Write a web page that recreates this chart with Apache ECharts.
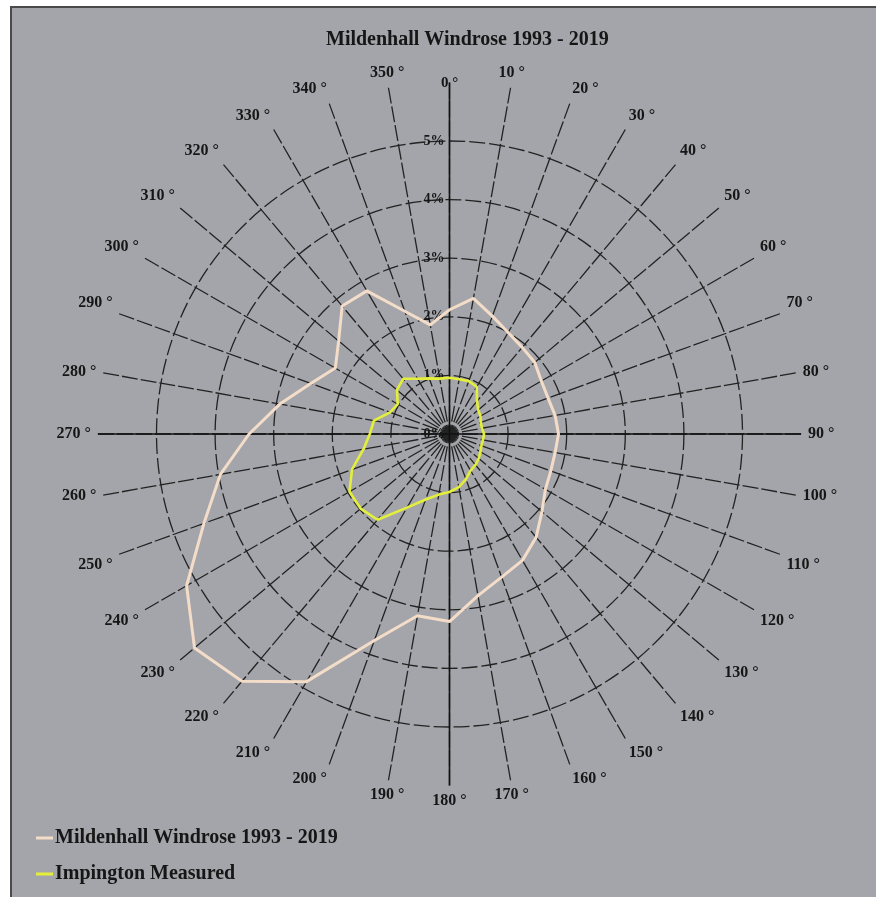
<!DOCTYPE html>
<html>
<head>
<meta charset="utf-8">
<script src="https://cdn.jsdelivr.net/npm/echarts@6/dist/echarts.min.js"></script>
<style>
  html, body { margin: 0; padding: 0; background: #ffffff; }
  #wrap { position: relative; width: 876px; height: 897px; overflow: hidden; }
  #chart { position: absolute; left: 0; top: 0; width: 876px; height: 897px; }
  .strip { position: absolute; background: #ffffff; }
  .edge { position: absolute; background: #4a4a4a; }
</style>
</head>
<body>
<div id="wrap">
  <div id="chart"></div>
  <div class="strip" style="left:0;top:0;width:876px;height:6px;"></div>
  <div class="strip" style="left:0;top:0;width:10px;height:897px;"></div>
  <div class="edge" style="left:10px;top:6px;width:866px;height:2px;"></div>
  <div class="edge" style="left:10px;top:6px;width:2px;height:891px;"></div>
</div>
<script>
// ---- data ----
const titleText = 'Mildenhall Windrose 1993 - 2019';
const seriesNames = ['Mildenhall Windrose 1993 - 2019', 'Impington Measured'];
const directions = [0,10,20,30,40,50,60,70,80,90,100,110,120,130,140,150,160,170,
                    180,190,200,210,220,230,240,250,260,270,280,290,300,310,320,330,340,350];
// percent frequency per direction
const mildenhall = [2.12,2.35,2.14,2.00,1.93,1.90,1.81,1.79,1.83,1.86,1.83,1.84,
                    1.89,2.06,2.30,2.49,2.60,2.80,3.20,3.15,3.75,4.88,5.51,5.68,
                    5.18,4.46,3.97,3.42,2.94,2.52,2.25,2.47,2.85,2.82,2.23,1.89];
const impington = [0.96,0.95,0.96,0.93,0.73,0.64,0.61,0.57,0.56,0.59,0.58,0.58,
                   0.61,0.65,0.69,0.72,0.82,0.92,0.99,1.05,1.19,1.45,1.91,1.98,
                   1.97,1.77,1.49,1.36,1.31,1.08,1.02,1.17,1.23,1.09,1.01,0.96];
const radiusTicks = [0,1,2,3,4,5];

// ---- build ----
function closedLoop(values) {
  const pts = directions.map((d, i) => [values[i], d]);
  pts.push([values[0], 360]);
  return pts;
}
const serifFont = "'Liberation Serif', 'DejaVu Serif', serif";
const ink = '#161616';
const center = [449.5, 434];
const radius = 351.6;

const chart = echarts.init(document.getElementById('chart'), null, { renderer: 'canvas' });
chart.setOption({
  backgroundColor: '#a4a5aa',
  animation: false,
  title: {
    text: titleText,
    left: 321,
    top: 25,
    textStyle: { fontFamily: serifFont, fontWeight: 'bold', fontSize: 20, color: ink }
  },
  legend: {
    orient: 'vertical',
    left: 31,
    top: 823,
    itemGap: 16,
    itemWidth: 17,
    itemHeight: 3,
    icon: 'rect',
    data: seriesNames,
    textStyle: { fontFamily: serifFont, fontWeight: 'bold', fontSize: 20, color: ink, padding: [0,0,0,-3] }
  },
  polar: [
    { center: center, radius: radius },
    { center: center, radius: radius }
  ],
  angleAxis: [
    {
      polarIndex: 0,
      type: 'value', min: 0, max: 360, interval: 10,
      startAngle: 90, clockwise: true,
      axisLine: { show: false },
      axisTick: { show: false },
      axisLabel: {
        margin: 7,
        fontFamily: serifFont, fontWeight: 'bold', fontSize: 16, color: ink,
        formatter: v => (v >= 360 ? '' : (v === 0 ? '{z|0 °}' : v + ' °')),
        rich: {
          z: { fontFamily: serifFont, fontWeight: 'bold', fontSize: 15, color: ink, padding: [0, 0, -15, 0] }
        }
      },
      splitLine: { show: true, lineStyle: { color: '#222222', width: 1.3, type: [16, 3] } }
    },
    {
      polarIndex: 1,
      type: 'value', min: 0, max: 360, interval: 90,
      startAngle: 90, clockwise: true,
      axisLine: { show: false },
      axisTick: { show: false },
      axisLabel: { show: false },
      splitLine: { show: true, lineStyle: { color: '#111111', width: 1.6, type: 'solid' } }
    }
  ],
  radiusAxis: [
    {
      polarIndex: 0,
      type: 'value', min: 0, max: 6, interval: 1,
      axisLine: { show: false },
      axisTick: { show: false },
      axisLabel: {
        fontFamily: serifFont, fontWeight: 'bold', fontSize: 14, color: ink, margin: 5,
        formatter: v => (radiusTicks.indexOf(v) >= 0 ? v + '%' : '')
      },
      splitLine: {
        show: true,
        lineStyle: {
          color: ['#222222','#222222','#222222','#222222','#222222','#222222','rgba(0,0,0,0)'],
          width: 1.3, type: [16, 4]
        }
      }
    },
    {
      polarIndex: 1,
      type: 'value', min: 0, max: 6, interval: 1,
      axisLine: { show: false }, axisTick: { show: false },
      axisLabel: { show: false }, splitLine: { show: false }
    }
  ],
  series: [
    {
      name: seriesNames[0],
      type: 'line',
      coordinateSystem: 'polar',
      polarIndex: 0,
      symbol: 'none',
      color: '#f3dcc8',
      lineStyle: { color: '#f3dcc8', width: 3 },
      data: closedLoop(mildenhall),
      z: 5
    },
    {
      name: seriesNames[1],
      type: 'line',
      coordinateSystem: 'polar',
      polarIndex: 0,
      symbol: 'none',
      color: '#e3ef3a',
      lineStyle: { color: '#e3ef3a', width: 2.6 },
      data: closedLoop(impington),
      z: 6
    }
  ]
});
</script>
</body>
</html>
